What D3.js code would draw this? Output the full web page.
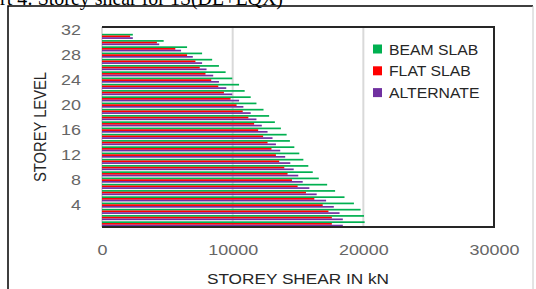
<!DOCTYPE html>
<meta charset="utf-8">
<style>
body { margin: 0; background: #fff; }
svg { display: block; font-family: "Liberation Sans", Arial, sans-serif; }
.tick text { fill: #666; font-size: 14px; }
.domain { display: none; }
</style>
<body>
<script src="https://cdn.jsdelivr.net/npm/d3@7"></script>
<script>
var width = 536,
    height = 289;

// storey levels, top to bottom
var levels = d3.range(32, 0, -1);
var series = ['BEAM SLAB', 'FLAT SLAB', 'ALTERNATE'];
var colors = ['#00B050', '#FF0000', '#7030A0'];

// storey shear in kN, listed from level 32 down to level 1
var beamSlab = [0, 2360, 4720, 6510, 7660, 8430, 8950, 9460, 9970, 10490, 10920,
    11380, 11820, 12360, 12790, 13230, 13690, 14130, 14380, 14720, 15100,
    15410, 15790, 16130, 16590, 17230, 17840, 18560, 19280, 19790, 20050, 20100];
var flatSlab = [0, 2150, 4200, 5610, 6510, 7150, 7480, 7920, 8360, 8900, 9330,
    9840, 10300, 10770, 11200, 11640, 11950, 12330, 12670, 12970, 13310,
    13560, 13950, 14200, 14540, 14970, 15610, 16250, 16890, 17330, 17590, 17590];
var alternate = [0, 2360, 4380, 6050, 6950, 7660, 8000, 8510, 8950, 9510, 9970,
    10490, 10820, 11380, 11820, 12230, 12670, 13050, 13310, 13640, 14020,
    14410, 14670, 15020, 15360, 15870, 16430, 17150, 17740, 18180, 18430, 18430];
var xTicks = [0, 10000, 20000, 30000];
var yTicks = [4, 8, 12, 16, 20, 24, 28, 32];

var values = [beamSlab, flatSlab, alternate];

var plot = {left: 102, right: 494, top: 27, bottom: 227};

var svg = d3.select('body').append('svg')
    .attr('width', width)
    .attr('height', height);

// stretch text sideways, the source picture is wider than tall
function stretch(sel, k) {
    sel.each(function() {
        var w = this.getComputedTextLength();
        d3.select(this).attr('textLength', w * k).attr('lengthAdjust', 'spacingAndGlyphs');
    });
}

// caption, mostly cut off at the top
svg.append('text')
    .attr('x', -32)
    .attr('y', 5)
    .style('font-family', '"Liberation Serif", serif')
    .style('font-size', '22px')
    .attr('fill', '#000')
    .attr('textLength', 315)
    .attr('lengthAdjust', 'spacingAndGlyphs')
    .text('Chart 4: Storey shear for 1S(DL+EQX)');

// outer frame
svg.append('path')
    .attr('d', 'M8,300V6H533')
    .attr('fill', 'none')
    .attr('stroke', '#000')
    .attr('stroke-width', 1.5);
svg.append('path')
    .attr('d', 'M533,6V300')
    .attr('fill', 'none')
    .attr('stroke', '#c8c8c8')
    .attr('stroke-width', 1);

var x = d3.scaleLinear()
    .domain([0, 30000])
    .range([plot.left, plot.right]);

var y = d3.scaleBand()
    .domain(levels)
    .range([plot.top, plot.bottom])
    .paddingInner(0.18)
    .paddingOuter(0.09);

var ySub = d3.scaleBand()
    .domain(series)
    .range([0, y.bandwidth()]);

// gridlines
svg.append('g')
    .selectAll('line')
    .data(xTicks.slice(0, 3))
    .join('line')
    .attr('x1', function(d) { return x(d); })
    .attr('x2', function(d) { return x(d); })
    .attr('y1', plot.top)
    .attr('y2', plot.bottom)
    .attr('stroke', '#d9d9d9')
    .attr('stroke-width', 2);

// bars
series.forEach(function(s, i) {
    svg.append('g')
        .attr('fill', colors[i])
        .selectAll('rect')
        .data(levels)
        .join('rect')
        .attr('x', x(0))
        .attr('y', function(d) { return y(d) + ySub(s); })
        .attr('width', function(d, j) { return x(values[i][j]) - x(0); })
        .attr('height', ySub.bandwidth());
});

// plot border
svg.append('path')
    .attr('d', 'M' + plot.left + ',' + plot.top + 'H' + plot.right + 'V' + plot.bottom + 'H' + plot.left)
    .attr('fill', 'none')
    .attr('stroke', '#262626')
    .attr('stroke-width', 2);

var xAxis = svg.append('g')
    .attr('transform', 'translate(0,' + plot.bottom + ')')
    .call(d3.axisBottom(x).tickValues(xTicks).tickSize(0).tickPadding(18).tickFormat(d3.format('d')));
xAxis.selectAll('text').call(stretch, 1.28);

var yAxis = svg.append('g')
    .attr('transform', 'translate(' + plot.left + ',0)')
    .call(d3.axisLeft(y).tickValues(yTicks).tickSize(0).tickPadding(21));
yAxis.selectAll('text').call(stretch, 1.28);

// axis titles
svg.append('text')
    .attr('x', 298)
    .attr('y', 284)
    .attr('text-anchor', 'middle')
    .style('font-size', '14px')
    .attr('fill', '#262626')
    .text('STOREY SHEAR IN kN')
    .call(stretch, 1.23);

svg.append('text')
    .attr('transform', 'translate(46,127) rotate(-90)')
    .attr('text-anchor', 'middle')
    .style('font-size', '16px')
    .attr('fill', '#262626')
    .text('STOREY LEVEL')
    .attr('textLength', 110)
    .attr('lengthAdjust', 'spacingAndGlyphs');

// legend
var legend = svg.append('g')
    .selectAll('g')
    .data(series)
    .join('g')
    .attr('transform', function(d, i) { return 'translate(373,' + (49 + i * 21.8) + ')'; });

legend.append('rect')
    .attr('y', -4.5)
    .attr('width', 9)
    .attr('height', 9)
    .attr('fill', function(d, i) { return colors[i]; });

legend.append('text')
    .attr('x', 16)
    .attr('y', 5.5)
    .style('font-size', '15px')
    .attr('fill', '#262626')
    .text(function(d) { return d; })
    .call(stretch, 1.05);
</script>
</body>
</html>
